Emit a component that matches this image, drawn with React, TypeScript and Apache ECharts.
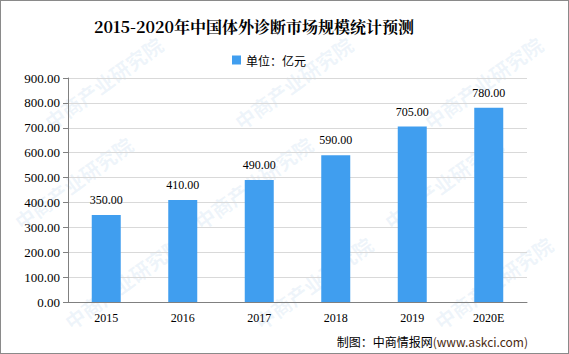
import React, { useEffect, useRef } from "react";
import * as echarts from "echarts";

const categories = ["2015", "2016", "2017", "2018", "2019", "2020E"];
const values = [350, 410, 490, 590, 705, 780];
const seriesName = "单位：亿元";
const titleText = "2015-2020年中国体外诊断市场规模统计预测";

export default function App() {
  const ref = useRef<HTMLDivElement>(null);
  useEffect(() => {
    const chart = echarts.init(ref.current!, null, { renderer: "svg" });
    const wm: any[] = [];
    const wmPos = [
      [40, 115], [230, 115], [420, 115],
      [10, 215], [190, 215], [380, 215],
      [60, 315], [250, 315], [430, 315],
    ];
    wmPos.forEach(([x, y]) => {
      wm.push({
        type: "text",
        x,
        y,
        rotation: Math.PI / 5,
        z: -10,
        style: { text: "中商产业研究院", fill: "rgba(120,170,220,0.13)", font: "bold 20px 'Noto Sans CJK SC'" },
      });
    });
    chart.setOption({
      animation: false,
      backgroundColor: "#fff",
      title: {
        text: titleText,
        left: 248,
        textAlign: "center",
        top: 12,
        textStyle: { fontFamily: "'Noto Serif CJK SC', 'Noto Sans CJK SC', serif", fontSize: 16, fontWeight: "bold", color: "#000" },
      },
      legend: {
        top: 48,
        left: 226,
        itemWidth: 9,
        itemHeight: 9,
        itemGap: 3,
        textStyle: { fontSize: 12, color: "#000", fontFamily: "'Noto Sans CJK SC'" },
        data: [{ name: seriesName, icon: "rect" }],
      },
      grid: { left: 67, right: 41, top: 77, bottom: 51 },
      xAxis: {
        type: "category",
        data: categories,
        axisLine: { lineStyle: { color: "#808080" } },
        axisTick: { lineStyle: { color: "#808080" }, length: 5 },
        axisLabel: { color: "#000", fontSize: 12, margin: 10, fontFamily: "'Liberation Serif', serif" },
      },
      yAxis: {
        type: "value",
        min: 0,
        max: 900,
        interval: 100,
        axisLine: { show: true, lineStyle: { color: "#808080" } },
        axisTick: { show: true, lineStyle: { color: "#808080" }, length: 5 },
        splitLine: { lineStyle: { color: "#d9d9d9" } },
        axisLabel: {
          color: "#000",
          fontSize: 13,
          margin: 8,
          fontFamily: "'Liberation Serif', serif",
          formatter: (v: number) => v.toFixed(2),
        },
      },
      series: [
        {
          name: seriesName,
          type: "bar",
          data: values,
          barWidth: 29,
          itemStyle: { color: "#409eef" },
          label: {
            show: true,
            position: "top",
            distance: 9,
            color: "#000",
            fontSize: 12,
            fontFamily: "'Liberation Serif', serif",
            formatter: (p: any) => Number(p.value).toFixed(2),
          },
        },
      ],
      graphic: [
        ...wm,
        {
          type: "text",
          right: 40,
          top: 334,
          style: {
            rich: {
              a: { fill: "#000", font: "12px 'Noto Sans CJK SC'" },
              b: { fill: "#4a2a10", font: "12px 'Noto Sans CJK SC'" },
            },
            text: "{a|制图：中商情报网}{b|(www.askci.com)}",
          },
        },
      ],
    });
    return () => chart.dispose();
  }, []);
  return (
    <div
      style={{ position: "fixed", left: 0, top: 0, width: 569, height: 354, boxSizing: "border-box", border: "1px solid #8a8a8a" }}
    >
      <div ref={ref} style={{ width: 567, height: 352 }} />
    </div>
  );
}
